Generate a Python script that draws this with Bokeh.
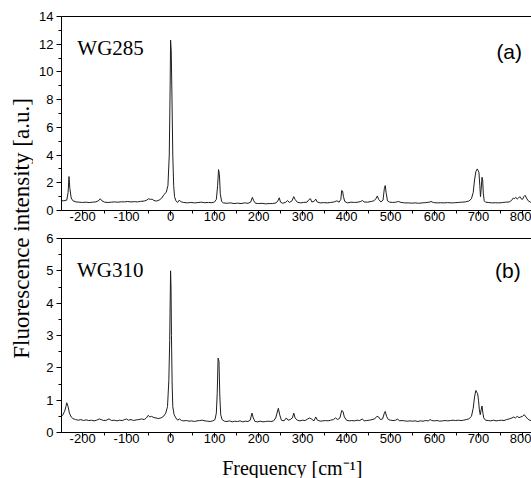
from bokeh.plotting import figure
from bokeh.layouts import row, column
from bokeh.models import (Range1d, LinearAxis, SingleIntervalTicker, FixedTicker,
                          Label, ColumnDataSource, NumeralTickFormatter)
from bokeh.core.properties import value
from bokeh.embed import file_html
from bokeh.resources import INLINE

# ---------------- data ----------------
freq_wg285 = [-248, -244, -240, -236, -233, -231, -229, -226, -222, -215, -208, -200,
              -192, -185, -178, -170, -163, -160, -156, -150, -142, -135, -128, -120,
              -112, -105, -98, -90, -82, -75, -68, -60, -54, -50, -46, -42, -38, -32,
              -26, -20, -15, -10, -6, -3, -1, 0, 1.5, 3, 5, 7, 9, 12, 16, 20, 24, 30,
              38, 46, 54, 62, 70, 78, 86, 94, 100, 104, 107, 109, 111, 113, 116, 120,
              128, 136, 144, 152, 160, 168, 176, 182, 186, 189, 193, 200, 208, 216,
              224, 232, 240, 244, 247, 250, 255, 262, 266, 270, 276, 280, 283, 288,
              295, 302, 310, 315, 318, 321, 326, 330, 333, 340, 348, 356, 364, 372,
              378, 383, 387, 389, 391, 393, 396, 402, 410, 418, 426, 432, 436, 440,
              448, 456, 462, 467, 470, 473, 478, 483, 486, 488, 490, 493, 498, 505,
              512, 518, 524, 532, 540, 548, 556, 564, 572, 580, 588, 592, 598, 606,
              614, 622, 630, 638, 646, 654, 662, 670, 678, 684, 688, 691, 694, 697,
              699, 701, 703, 704.5, 706, 708, 709.5, 711, 713, 716, 722, 730, 738,
              746, 754, 762, 770, 775, 779, 782, 785, 788, 791, 794, 797, 800, 803,
              806, 809, 813, 818, 822]
int_wg285 = [0.72, 0.70, 0.72, 0.75, 1.3, 2.45, 1.6, 0.9, 0.7, 0.62, 0.6, 0.58,
             0.6, 0.57, 0.6, 0.62, 0.72, 0.85, 0.7, 0.6, 0.58, 0.6, 0.62, 0.6,
             0.63, 0.62, 0.65, 0.62, 0.64, 0.62, 0.66, 0.68, 0.75, 0.85, 0.8, 0.82, 0.72, 0.68,
             0.75, 0.9, 1.15, 1.3, 1.8, 4.0, 9.0, 12.3, 11.5, 8.4, 4.0, 1.8, 1.0, 0.7, 0.58, 0.75, 0.62, 0.58,
             0.55, 0.58, 0.55, 0.57, 0.6, 0.56, 0.58, 0.56, 0.62, 0.8, 1.8, 2.95, 2.6, 1.2, 0.65, 0.55,
             0.52, 0.55, 0.5, 0.53, 0.5, 0.55, 0.52, 0.6, 0.95, 0.7, 0.52, 0.5, 0.52, 0.48,
             0.5, 0.5, 0.55, 0.7, 0.92, 0.6, 0.52, 0.6, 0.72, 0.58, 0.7, 1.0, 0.8, 0.6,
             0.55, 0.58, 0.6, 0.8, 0.85, 0.62, 0.65, 0.82, 0.62, 0.55, 0.57, 0.55, 0.58, 0.62,
             0.7, 0.6, 0.8, 1.45, 1.4, 1.0, 0.65, 0.55, 0.6, 0.58, 0.6, 0.65, 0.72, 0.62,
             0.6, 0.65, 0.7, 0.85, 1.05, 0.8, 0.62, 0.75, 1.6, 1.8, 1.3, 0.7, 0.6, 0.58,
             0.6, 0.65, 0.58, 0.55, 0.55, 0.53, 0.55, 0.52, 0.55, 0.57, 0.6, 0.65, 0.57, 0.55,
             0.56, 0.55, 0.57, 0.55, 0.56, 0.58, 0.6, 0.62, 0.68, 0.85, 1.3, 2.2, 2.8, 3.0,
             2.9, 2.75, 1.8, 1.0, 1.5, 2.4, 2.2, 1.2, 0.7, 0.6, 0.58, 0.55, 0.56,
             0.55, 0.57, 0.6, 0.62, 0.72, 0.9, 0.85, 0.95, 0.82, 0.9, 1.0, 0.85, 0.8, 1.0,
             1.1, 0.9, 0.7, 0.6, 0.58]

freq_wg310 = [-248, -245, -241, -238, -236, -233, -230, -226, -222, -216, -210, -204,
              -198, -192, -186, -180, -174, -168, -162, -158, -152, -146, -140, -134,
              -128, -122, -116, -110, -104, -100, -96, -90, -84, -78, -72, -66, -60,
              -55, -51, -47, -43, -38, -33, -28, -22, -16, -11, -7, -4, -2, -0.5, 0,
              1, 2, 3.5, 5, 8, 12, 16, 20, 25, 30, 36, 42, 48, 54, 60, 66, 72, 78, 84,
              90, 96, 101, 104, 106, 108, 110, 112, 114, 117, 122, 128, 134, 140, 146,
              152, 158, 164, 170, 176, 181, 185, 188, 192, 198, 204, 210, 216, 222,
              228, 234, 239, 242, 245, 248, 252, 258, 263, 267, 272, 277, 280, 283,
              288, 294, 300, 306, 312, 316, 320, 326, 330, 334, 340, 346, 352, 358,
              364, 370, 375, 380, 385, 389, 392, 395, 400, 406, 412, 418, 424, 430,
              436, 440, 446, 452, 458, 464, 469, 473, 477, 482, 486, 488, 491, 495,
              500, 506, 512, 516, 520, 526, 532, 538, 544, 550, 556, 562, 568, 574,
              580, 586, 590, 594, 600, 606, 612, 618, 624, 630, 636, 642, 648, 654,
              660, 666, 672, 678, 684, 688, 691, 694, 696, 698, 700, 702, 704, 706,
              708, 710, 712, 716, 722, 728, 734, 740, 746, 752, 758, 764, 770, 776,
              780, 784, 788, 792, 796, 800, 804, 808, 812, 816, 820]
int_wg310 = [0.5, 0.55, 0.65, 0.8, 0.92, 0.8, 0.6, 0.48, 0.43, 0.4, 0.38, 0.4,
             0.37, 0.39, 0.37, 0.38, 0.36, 0.38, 0.42, 0.4, 0.37, 0.38, 0.42, 0.37,
             0.38, 0.36, 0.38, 0.37, 0.4, 0.42, 0.38, 0.4, 0.37, 0.39, 0.4, 0.42, 0.4,
             0.45, 0.53, 0.48, 0.5, 0.46, 0.45, 0.43, 0.45, 0.5, 0.6, 0.8, 1.6, 2.85, 4.5, 5.0,
             4.5, 3.0, 1.5, 0.8, 0.55, 0.45, 0.38, 0.42, 0.37, 0.36, 0.37, 0.35, 0.36, 0.34, 0.36, 0.37, 0.38, 0.36, 0.35,
             0.34, 0.36, 0.4, 0.6, 1.2, 2.3, 2.2, 1.1, 0.55, 0.4, 0.35, 0.34, 0.36, 0.33, 0.35,
             0.34, 0.36, 0.33, 0.35, 0.34, 0.38, 0.6, 0.45, 0.34, 0.33, 0.35, 0.33, 0.34, 0.35,
             0.34, 0.36, 0.45, 0.6, 0.75, 0.55, 0.38, 0.36, 0.45, 0.38, 0.4, 0.45, 0.6, 0.45,
             0.38, 0.36, 0.38, 0.37, 0.42, 0.45, 0.42, 0.36, 0.48, 0.38, 0.35, 0.36, 0.37, 0.36,
             0.38, 0.4, 0.45, 0.4, 0.45, 0.68, 0.65, 0.48, 0.38, 0.36, 0.37, 0.36, 0.38, 0.37,
             0.42, 0.36, 0.37, 0.38, 0.4, 0.42, 0.5, 0.48, 0.4, 0.42, 0.6, 0.65, 0.5, 0.4,
             0.38, 0.37, 0.38, 0.42, 0.36, 0.37, 0.36, 0.35, 0.36, 0.35, 0.36, 0.34, 0.36, 0.35,
             0.37, 0.36, 0.4, 0.37, 0.36, 0.37, 0.35, 0.36, 0.37, 0.36, 0.37, 0.38, 0.37, 0.38,
             0.37, 0.38, 0.4, 0.42, 0.5, 0.75, 1.1, 1.3, 1.25, 1.2, 1.0, 0.7, 0.55, 0.7,
             0.82, 0.6, 0.45, 0.38, 0.37, 0.36, 0.38, 0.36, 0.37, 0.38, 0.37, 0.4, 0.42, 0.45,
             0.48, 0.45, 0.5, 0.46, 0.48, 0.5, 0.55, 0.48, 0.42, 0.38, 0.37]

x_ticks_interval = 100
panel_names = ["WG285", "WG310"]
panel_tags = ["(a)", "(b)"]
y_label = "Fluorescence intensity [a.u.]"
x_label = "Frequency [cm\u207b\u00b9]"

# ---------------- layout constants ----------------
LABEL_W = 33
FRAME_W = 470
FRAME_H = 194
X_START, X_END = -248, 820.5
TICK_FONT = "Liberation Sans"
SERIF = "Liberation Serif"


def style_axes(p, y_interval):
    for ax in p.xaxis + p.yaxis:
        ax.axis_line_color = "black"
        ax.axis_line_width = 1
        ax.major_tick_line_color = "black"
        ax.minor_tick_line_color = "black"
        ax.major_tick_out = 5
        ax.major_tick_in = 0
        ax.minor_tick_out = 3
        ax.minor_tick_in = 0
        ax.major_label_text_font = TICK_FONT
        ax.major_label_text_font_size = "13px"
        ax.major_label_text_color = "black"
    p.xaxis.ticker = SingleIntervalTicker(interval=x_ticks_interval, num_minor_ticks=2)
    p.xaxis.formatter = NumeralTickFormatter(format="0")
    p.yaxis.ticker = SingleIntervalTicker(interval=y_interval, num_minor_ticks=2)
    p.xaxis.major_label_standoff = -4
    p.yaxis.major_label_standoff = 3
    top = LinearAxis(ticker=FixedTicker(ticks=[]), major_tick_line_color=None,
                     minor_tick_line_color=None, major_label_standoff=0,
                     axis_line_color="black")
    p.add_layout(top, "above")
    p.xgrid.visible = False
    p.ygrid.visible = False
    p.outline_line_color = None


def panel(freq, inten, ymax, y_interval, name, tag, name_pos, tag_pos, top_border, bottom_border):
    p = figure(frame_width=FRAME_W, frame_height=FRAME_H,
               min_border_left=28, min_border_right=0, min_border_top=top_border,
               min_border_bottom=bottom_border,
               x_range=Range1d(X_START, X_END), y_range=Range1d(0, ymax),
               output_backend="svg", toolbar_location=None)
    src = ColumnDataSource(dict(x=freq, y=inten))
    p.line("x", "y", source=src, line_color="#1e1e1e", line_width=1)
    style_axes(p, y_interval)
    p.add_layout(Label(x=name_pos[0], y=name_pos[1], text=name, text_font=SERIF,
                       text_font_size="21px", text_baseline="alphabetic",
                       text_color="black"))
    p.add_layout(Label(x=tag_pos[0], y=tag_pos[1], text=tag, text_font=TICK_FONT,
                       text_font_size="21px", text_baseline="alphabetic",
                       text_align="right", text_color="black"))
    return p


p1 = panel(freq_wg285, int_wg285, 14, 2, panel_names[0], panel_tags[0],
           (-212, 11.7), (799, 11.5), 16, 20)
p2 = panel(freq_wg310, int_wg310, 6, 1, panel_names[1], panel_tags[1],
           (-213, 5.02), (796, 5.0), 8, 16)

TOTAL_H = 478
lab = figure(width=LABEL_W, height=TOTAL_H, min_border=0,
             x_range=Range1d(0, LABEL_W), y_range=Range1d(0, TOTAL_H),
             output_backend="svg", toolbar_location=None)
lab.axis.visible = False
lab.grid.visible = False
lab.outline_line_color = None
lab.text(x=[21], y=[250], text=[y_label], angle=1.5708, text_align="center",
         text_baseline="middle", text_font=value(SERIF), text_font_size="23px",
         text_color="black")

XL_W = 28 + FRAME_W
XL_H = 30
xl = figure(width=XL_W, height=XL_H, min_border=0,
            x_range=Range1d(0, XL_W), y_range=Range1d(0, XL_H),
            output_backend="svg", toolbar_location=None)
xl.axis.visible = False
xl.grid.visible = False
xl.outline_line_color = None
xl.text(x=[244.5], y=[11], text=[x_label], text_align="center",
        text_baseline="middle", text_font=value(SERIF), text_font_size="20px",
        text_color="black")

layout = row(lab, column(p1, p2, xl))
open("out.html", "w").write(file_html(layout, INLINE))
